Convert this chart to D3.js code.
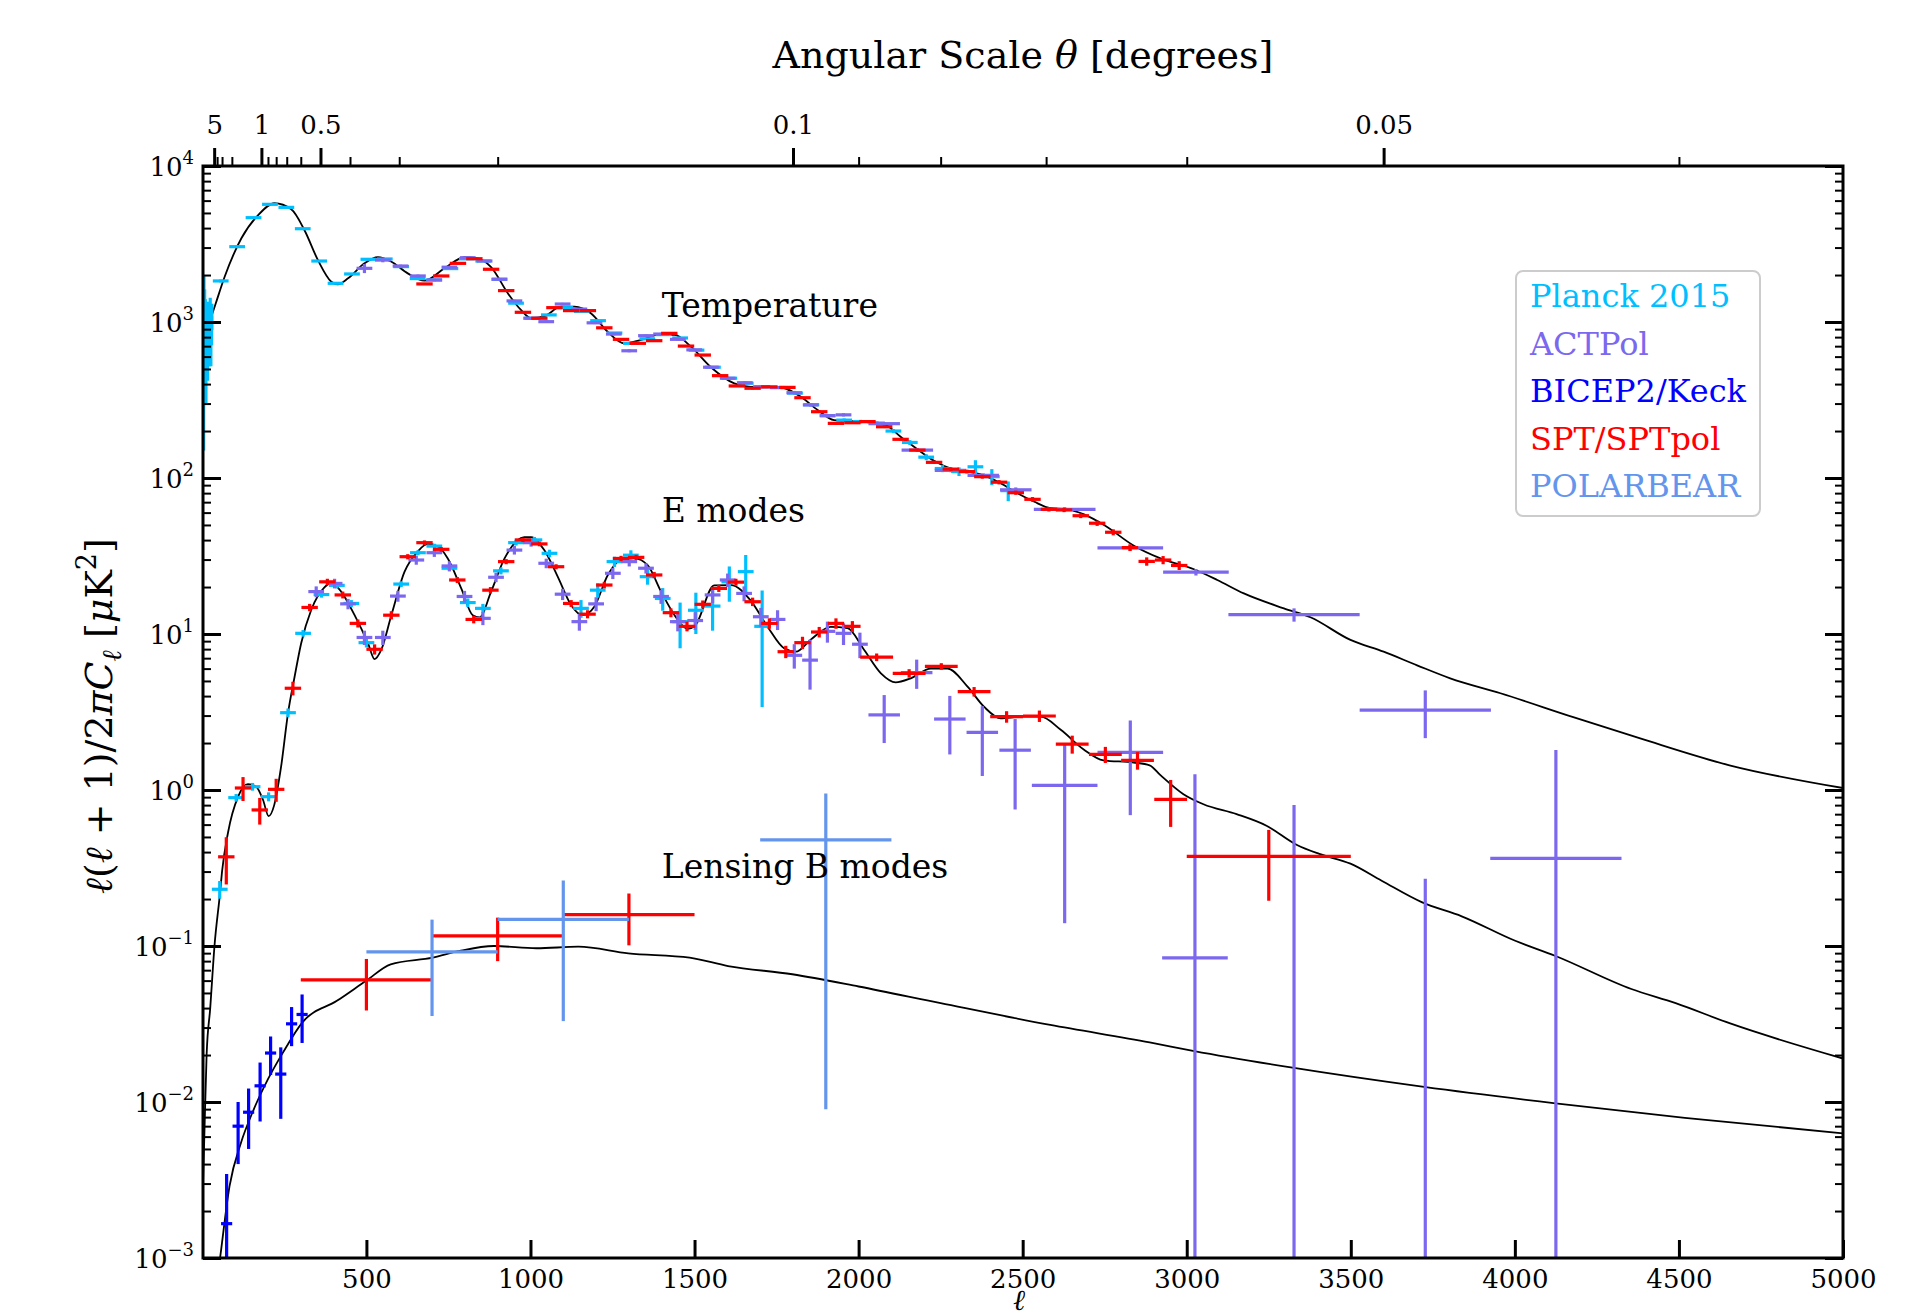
<!DOCTYPE html>
<html>
<head>
<meta charset="utf-8">
<script src="https://cdn.jsdelivr.net/npm/d3@7"></script>
<style>
  body { margin: 0; background: #fff; }
  svg { display: block; font-family: "DejaVu Serif", serif; }
</style>
</head>
<body>
<svg id="chart" width="1928" height="1311"></svg>
<script>
// ---- theory curves [ell, D_ell] ----
const ttTheory = [[2,1000],[10,850],[22,1000],[40,1300],[68,1950],[119,3440],[170,4850],[220,5770],[271,5280],[311,3890],[352,2500],[393,1813],[413,1745],[444,1905],[494,2378],[535,2600],[575,2440],[626,2050],[677,1840],[738,2210],[799,2600],[839,2560],[880,2250],[931,1528],[971,1195],[1002,1060],[1043,1090],[1093,1253],[1134,1253],[1184,1137],[1235,867],[1286,730],[1337,767],[1388,826],[1439,826],[1489,695],[1550,513],[1621,404],[1672,384],[1753,384],[1824,332],[1875,273],[1925,235],[2007,230],[2078,221],[2128,184],[2179,153],[2230,129],[2281,115],[2331,110],[2382,104],[2433,92.5],[2484,79.8],[2534,70.7],[2585,64],[2636,63],[2687,58.5],[2748,50],[2839,36.8],[2920,30.5],[3022,26],[3093,22.2],[3174,18.2],[3296,14.6],[3377,12.8],[3499,9.16],[3600,7.7],[3702,6.3],[3803,5.2],[3956,4.17],[4178,2.93],[4382,2.14],[4654,1.44],[5000,1.03]];

const eeTheory = [[2,0.003],[6,0.006],[13,0.02],[24,0.04],[37,0.1],[54,0.22],[60,0.3],[78,0.53],[109,0.906],[139,1.09],[164,1.05],[185,0.863],[202,0.68],[219,0.8],[240,1.41],[261,3.1],[281,5.3],[301,8.7],[332,14.3],[372,19.9],[393,21.3],[423,18.7],[464,13.2],[505,8.7],[525,6.9],[545,7.9],[576,13.2],[616,25],[657,33.9],[687,37.8],[717,36.5],[748,30.5],[789,19.6],[824,13.2],[845,12.8],[880,18.7],[921,30.5],[981,41.7],[1002,41.7],[1042,34.5],[1083,23.3],[1124,15.3],[1159,13.2],[1195,15],[1235,23.7],[1286,30.5],[1317,30.5],[1357,27.6],[1398,18.7],[1439,13.2],[1479,10.8],[1500,11.2],[1560,20.5],[1611,20.6],[1670,16.5],[1723,11.1],[1773,8.1],[1809,7.7],[1854,9.2],[1915,11.1],[1966,10.9],[2017,7.9],[2068,5.6],[2113,4.9],[2159,5.2],[2220,6.0],[2271,6.0],[2332,4.6],[2382,3.42],[2433,2.88],[2494,2.95],[2555,2.95],[2616,2.43],[2686,1.82],[2746,1.55],[2838,1.5],[2887,1.44],[2919,1.25],[2990,0.94],[3051,0.81],[3152,0.7],[3243,0.59],[3336,0.444],[3404,0.389],[3499,0.337],[3594,0.262],[3716,0.191],[3838,0.155],[4001,0.108],[4124,0.0863],[4355,0.053],[4490,0.043],[4654,0.032],[5000,0.019]];

const bbTheory = [[40,0.0006],[54,0.001],[83,0.0029],[118,0.0055],[153,0.0086],[200,0.014],[246,0.0208],[305,0.0324],[410,0.0445],[500,0.06],[574,0.0763],[702,0.0842],[784,0.093],[889,0.1],[1018,0.0967],[1146,0.099],[1298,0.0898],[1485,0.0842],[1602,0.0744],[1798,0.0659],[2000,0.055],[2250,0.043],[2584,0.0312],[2887,0.0241],[3023,0.0212],[3322,0.0166],[3723,0.0125],[4124,0.0098],[4518,0.0079],[5000,0.0063]];

// ---- measurements [ell, D_ell, ell half-width, D error] ----
const planckTT = [[3,1100,0,700],[4,600,0,450],[5,1400,0,600],[6,900,0,380],[7,1200,0,420],[8,550,0,240],[9,1050,0,350],[10,850,0,290],[11,500,0,200],[12,1000,0,250],[13,850,0,220],[14,950,0,240],[15,1050,0,250],[16,600,0,180],[17,1100,0,250],[18,800,0,200],[19,900,0,220],[20,950,0,220],[21,1050,0,220],[22,700,0,180],[23,900,0,200],[24,1200,0,230],[25,1000,0,210],[26,700,0,180],[27,1000,0,200],[28,900,0,190],[29,1100,0,210],
  [56,1833,24,40],[106,3040,24,50],[156,4665,24,60],[206,5680,24,60],[256,5430,24,60],[306,3963,24,45],[356,2460,24,30],[406,1770,24,22],[456,2032,24,22],[506,2523,24,25],[556,2535,24,25],[606,2265,24,22],[656,1898,24,20],[706,1860,24,20],[756,2200,24,22],[806,2540,24,25],[856,2460,24,25],[906,1879,24,20],[956,1320,24,15],[1006,1057,24,12],[1056,1110,24,12],[1106,1236,24,14],[1156,1170,24,13],[1206,1020,24,12],[1256,850,24,10],[1306,730,24,9],[1356,780,24,10],[1406,830,24,10],[1456,790,24,10],[1506,660,24,9],[1556,513,24,8],[1606,436,24,7],[1656,405,24,7],[1706,385,24,7],[1756,380,24,7],[1806,350,24,7],[1856,295,24,6],[1906,251,24,6],[1956,235,24,6],[2006,230,24,6],[2056,225,24,6],[2106,200,24,6],[2156,169,24,6],[2206,136,24,6],[2256,115,24,6],[2306,110,24,7],[2356,118,24,12],[2406,102,24,12],[2456,83,24,12]];

const planckEE = [[53,0.231,24,0.03],[103,0.893,24,0.05],[153,1.05,24,0.06],[202,0.906,24,0.06],[261,3.13,24,0.2],[307,10.1,24,0.5],[363,17.9,24,0.8],[410,20.5,24,0.9],[454,15.7,24,0.8],[500,8.8,24,0.6],[606,20.9,24,0.9],[657,33.2,24,1.2],[707,36.6,24,1.3],[753,26.4,24,1.2],[809,15.9,24,1.0],[855,14.6,24,1.0],[910,25.4,24,1.3],[956,38.5,24,1.6],[1012,40.1,24,1.8],[1058,32.9,24,1.8],[1154,14.6,24,1.9],[1205,19.1,24,2.0],[1256,29.1,24,2.2],[1306,32.0,24,2.4],[1357,23.3,24,2.6],[1403,16.9,24,2.8],[1456,12.0,24,3.9],[1504,14.2,24,4.2],[1555,15.1,24,4.6],[1606,21.6,24,5.5],[1656,25.1,24,7.0],[1706,11.2,24,7.8]];

const actTT = [[494,2208,24,150],[550,2494,24,80],[604,2285,24,45],[657,1973,24,40],[707,1860,24,35],[753,2245,24,40],[809,2582,24,45],[860,2460,24,40],[905,1879,24,30],[951,1365,24,25],[1002,1057,24,20],[1048,1005,24,20],[1098,1304,24,22],[1149,1210,24,20],[1195,988,24,18],[1254,837,24,16],[1301,654,24,14],[1352,817,24,15],[1398,837,24,15],[1449,774,24,14],[1499,663,24,12],[1550,513,24,10],[1601,436,24,9],[1653,408,24,9],[1702,384,24,8],[1753,380,24,8],[1804,352,24,8],[1854,294,24,7],[1905,251,24,6],[1954,254,24,6],[2078,223,48,5],[2179,151,48,4],[2280,112,48,3],[2380,104,48,3],[2479,84,48,3],[2628,63,94,2],[2828,35.7,100,1.5],[3028,24.9,100,1.2],[3327,13.3,200,1.3],[3727,3.25,200,1.1]];

const actEE = [[347,18.7,24,1.5],[403,21.1,24,1.5],[444,15.6,24,1.2],[494,9.5,24,1.0],[550,9.5,24,1.0],[596,17.5,24,1.4],[652,29.8,24,2],[707,33.2,24,2],[753,27.3,24,2],[799,17.4,24,1.5],[855,12.6,24,1.2],[895,23.1,24,1.6],[951,34.5,24,2.2],[1002,38.5,24,2.2],[1048,28.4,24,2],[1098,18,24,1.5],[1149,12,24,1.5],[1200,15.6,24,1.6],[1251,24.5,24,2],[1301,29.1,24,2],[1352,26.4,24,2],[1398,17.4,24,1.8],[1449,12,24,1.6],[1502,12.2,24,1.6],[1555,17.8,24,2],[1601,22.2,24,2.2],[1651,18.2,24,2],[1702,12.9,24,1.8],[1753,12.4,24,1.8],[1804,7.3,24,1.3],[1852,6.8,24,2.4],[1905,10.4,24,1.6],[1954,10.1,24,1.6],[2004,8.6,24,1.6],[2078,3.03,48,1.03],[2177,5.65,48,1.2],[2278,2.85,48,1.16],[2377,2.34,48,1.11],[2477,1.8,48,1.05],[2628,1.07,100,0.93],[2828,1.74,100,1.05],[3025,0.084,100,1.18],[3327,-0.2,200,1.0],[3727,-0.3,200,0.57],[4125,0.365,200,1.44]];

const bicepBB = [[74,0.00166,17,0.0018],[109,0.0070,17,0.003],[141,0.0086,17,0.0036],[176,0.0127,17,0.0052],[208,0.0206,17,0.0057],[239,0.0151,17,0.0073],[272,0.0317,17,0.0089],[304,0.0364,17,0.0125]];

const sptTT = [[677,1754,25,25],[728,1973,25,25],[779,2377,25,30],[829,2545,25,30],[880,2178,25,25],[926,1589,25,20],[977,1154,25,15],[1027,1057,25,14],[1073,1236,25,15],[1124,1183,25,14],[1175,1183,25,14],[1225,918,25,12],[1276,774,25,10],[1327,730,25,10],[1377,759,25,10],[1423,846,25,10],[1474,701,25,9],[1525,614,25,8],[1578,453,25,7],[1629,389,25,6],[1677,376,25,6],[1728,384,25,6],[1783,381,25,6],[1829,327,25,5],[1880,266,25,5],[1931,224,25,4],[1981,226,25,4],[2027,230,25,4],[2078,213,25,4],[2128,177,25,3],[2179,151,25,3],[2230,126,25,3],[2281,114,25,3],[2330,110,25,3],[2377,102,25,3],[2428,94,25,3],[2479,80.5,25,2.5],[2530,73,25,2.5],[2580,63,25,2],[2626,62.4,25,2],[2677,57.3,25,2],[2727,51.3,25,2],[2776,44.9,25,2],[2827,35.8,25,1.8],[2878,29.2,25,1.8],[2928,29.8,25,1.8],[2977,27.5,25,1.8]];

const sptEE = [[73,0.373,25,0.125],[124,1.03,25,0.18],[175,0.745,25,0.145],[225,1.01,25,0.17],[276,4.49,25,0.45],[327,14.8,25,0.8],[381,21.6,25,1.0],[428,17.8,25,0.9],[474,11.7,25,0.7],[525,7.98,25,0.6],[576,13.2,25,0.8],[626,31.3,25,1.2],[677,38.5,25,1.3],[728,34.9,25,1.2],[777,22.2,25,1.0],[827,12.4,25,0.7],[878,19.1,25,0.9],[926,29.1,25,1.1],[977,40.1,25,1.3],[1027,37.8,25,1.3],[1078,27.0,25,1.0],[1124,15.7,25,0.8],[1174,13.4,25,0.8],[1225,20.6,25,1.0],[1276,30.5,25,1.2],[1322,31.0,25,1.2],[1377,23.9,25,1.1],[1428,13.7,25,0.9],[1477,11.2,25,0.8],[1525,15.5,25,0.9],[1574,19.6,25,1.0],[1626,21.5,25,1.1],[1677,16.1,25,1.0],[1728,11.7,25,0.9],[1778,7.7,25,0.7],[1829,8.8,25,0.8],[1880,10.3,25,0.8],[1931,11.7,25,0.9],[1981,11.2,25,0.9],[2055,7.1,50,0.4],[2154,5.6,50,0.35],[2252,6.2,50,0.3],[2352,4.27,50,0.3],[2451,2.95,50,0.25],[2551,2.98,50,0.25],[2651,1.97,50,0.26],[2752,1.69,50,0.2],[2850,1.55,50,0.2],[2951,0.87,50,0.29],[3250,0.375,250,0.18]];

const sptBB = [[500,0.0606,200,0.022],[900,0.116,200,0.036],[1300,0.159,200,0.058]];
const polarbearBB = [[700,0.0916,200,0.056],[1100,0.148,200,0.115],[1900,0.479,200,0.47]];

// axis ticks
const xTicks = [500,1000,1500,2000,2500,3000,3500,4000,4500,5000];
const yExponents = [-3,-2,-1,0,1,2,3,4];
const thetaMajor = [5,1,0.5,0.1,0.05];
const thetaMinor = [4,3,2,0.9,0.8,0.7,0.6,0.4,0.3,0.2,0.09,0.08,0.07,0.06,0.04];

const legendItems = [
  {label: 'Planck 2015', color: '#00BFFF'},
  {label: 'ACTPol', color: '#7B68EE'},
  {label: 'BICEP2/Keck', color: '#0000FF'},
  {label: 'SPT/SPTpol', color: '#FF0000'},
  {label: 'POLARBEAR', color: '#6495ED'}
];

const svg = d3.select('#chart');
const mLeft = 203, mRight = 1843, mTop = 166, mBottom = 1258;
const FONT = '"DejaVu Serif", serif';

const x = d3.scaleLinear().domain([2, 5000]).range([mLeft, mRight]);
const y = d3.scaleLog().domain([1e-3, 1e4]).range([mBottom, mTop]);

svg.append('defs').append('clipPath').attr('id', 'plotclip')
  .append('rect').attr('x', mLeft).attr('y', mTop)
  .attr('width', mRight - mLeft).attr('height', mBottom - mTop);

const plot = svg.append('g').attr('clip-path', 'url(#plotclip)');

// theory lines
const line = d3.line()
  .x(d => x(d[0]))
  .y(d => y(d[1]))
  .curve(d3.curveMonotoneX);

[ttTheory, eeTheory, bbTheory].forEach(curve => {
  plot.append('path').datum(curve)
    .attr('d', line)
    .attr('fill', 'none')
    .attr('stroke', '#000')
    .attr('stroke-width', 1.8);
});

// error-bar crosses
function drawSet(rows, color) {
  const g = plot.append('g').attr('stroke', color).attr('stroke-width', 3.2);
  g.selectAll('line.h')
    .data(rows.filter(r => r[1] > 0 && r[2] > 0))
    .join('line').attr('class', 'h')
    .attr('x1', d => x(d[0] - d[2]))
    .attr('x2', d => x(d[0] + d[2]))
    .attr('y1', d => y(d[1]))
    .attr('y2', d => y(d[1]));
  g.selectAll('line.v')
    .data(rows.filter(r => r[3] > 0))
    .join('line').attr('class', 'v')
    .attr('x1', d => x(d[0]))
    .attr('x2', d => x(d[0]))
    .attr('y1', d => y(Math.max(d[1] - d[3], 1e-6)))
    .attr('y2', d => y(d[1] + d[3]));
}

drawSet(planckTT, '#00BFFF');
drawSet(planckEE, '#00BFFF');
drawSet(actTT, '#7B68EE');
drawSet(actEE, '#7B68EE');
drawSet(bicepBB, '#0000FF');
drawSet(sptTT, '#FF0000');
drawSet(sptEE, '#FF0000');
drawSet(sptBB, '#FF0000');
drawSet(polarbearBB, '#6495ED');

// axes
function styleAxis(g) {
  g.select('.domain').remove();
  g.attr('font-family', FONT).attr('font-size', 26);
  g.selectAll('.tick line').attr('stroke', '#000');
  g.selectAll('.tick text').attr('fill', '#000');
}

// bottom
svg.append('g').attr('transform', `translate(0,${mBottom})`)
  .call(d3.axisBottom(x).tickValues(xTicks).tickSize(-18).tickPadding(12).tickFormat(d3.format('d')))
  .call(styleAxis)
  .call(g => g.selectAll('.tick line').attr('stroke-width', 3));

// top (angular scale)
svg.append('g').attr('transform', `translate(0,${mTop})`)
  .call(d3.axisTop(x).tickValues(thetaMajor.map(t => 180 / t)).tickSize(18).tickPadding(14)
    .tickFormat((d, i) => String(thetaMajor[i])))
  .call(styleAxis)
  .call(g => g.selectAll('.tick line').attr('stroke-width', 3));
svg.append('g').attr('transform', `translate(0,${mTop})`)
  .call(d3.axisTop(x).tickValues(thetaMinor.map(t => 180 / t)).tickSize(9).tickFormat(''))
  .call(styleAxis)
  .call(g => g.selectAll('.tick line').attr('stroke-width', 2));

// left / right log ticks
const yMajor = yExponents.map(k => Math.pow(10, k));
const yMinor = [];
yExponents.slice(0, -1).forEach(k => {
  for (let m = 2; m <= 9; m++) yMinor.push(m * Math.pow(10, k));
});

[[d3.axisLeft, mLeft], [d3.axisRight, mRight]].forEach(([axisFn, pos]) => {
  svg.append('g').attr('transform', `translate(${pos},0)`)
    .call(axisFn(y).tickValues(yMajor).tickSize(-18).tickFormat(''))
    .call(styleAxis)
    .call(g => g.selectAll('.tick line').attr('stroke-width', 3));
  svg.append('g').attr('transform', `translate(${pos},0)`)
    .call(axisFn(y).tickValues(yMinor).tickSize(-8).tickFormat(''))
    .call(styleAxis)
    .call(g => g.selectAll('.tick line').attr('stroke-width', 2));
});

// y tick labels with superscripts
const yLab = svg.append('g').attr('font-family', FONT).attr('fill', '#000');
yExponents.forEach(k => {
  const t = yLab.append('text')
    .attr('x', mLeft - 9)
    .attr('y', y(Math.pow(10, k)) + 10)
    .attr('text-anchor', 'end')
    .attr('font-size', 26);
  t.append('tspan').text('10');
  t.append('tspan').attr('dy', -12).attr('font-size', 18)
    .text(k < 0 ? '\u2212' + Math.abs(k) : String(k));
});

// frame
svg.append('rect')
  .attr('x', mLeft).attr('y', mTop)
  .attr('width', mRight - mLeft).attr('height', mBottom - mTop)
  .attr('fill', 'none').attr('stroke', '#000').attr('stroke-width', 3);

// titles
const title = svg.append('text')
  .attr('x', (mLeft + mRight) / 2).attr('y', 68)
  .attr('text-anchor', 'middle')
  .attr('font-family', FONT).attr('font-size', 38);
title.append('tspan').text('Angular Scale ');
title.append('tspan').attr('font-style', 'italic').text('\u03b8');
title.append('tspan').text(' [degrees]');

svg.append('text')
  .attr('x', (mLeft + mRight) / 2 - 4).attr('y', 1310)
  .attr('text-anchor', 'middle')
  .attr('font-family', FONT).attr('font-size', 29)
  .attr('font-style', 'italic')
  .text('\u2113');

const yTitle = svg.append('text')
  .attr('transform', 'translate(112,716) rotate(-90)')
  .attr('text-anchor', 'middle')
  .attr('font-family', FONT).attr('font-size', 38);
yTitle.append('tspan').attr('font-style', 'italic').text('\u2113');
yTitle.append('tspan').text('(');
yTitle.append('tspan').attr('font-style', 'italic').text('\u2113');
yTitle.append('tspan').text(' + 1)/2');
yTitle.append('tspan').attr('font-style', 'italic').text('\u03c0C');
yTitle.append('tspan').attr('font-style', 'italic').attr('font-size', 27).attr('dy', 9).text('\u2113');
yTitle.append('tspan').attr('dy', -9).text(' [');
yTitle.append('tspan').attr('font-style', 'italic').text('\u03bc');
yTitle.append('tspan').text('K');
yTitle.append('tspan').attr('font-size', 27).attr('dy', -16).text('2');
yTitle.append('tspan').attr('dy', 16).text(']');

// in-plot annotations
const notes = [
  {text: 'Temperature', l: 1400, d: 1080},
  {text: 'E modes', l: 1400, d: 52.5},
  {text: 'Lensing B modes', l: 1400, d: 0.274}
];
svg.append('g').selectAll('text').data(notes).join('text')
  .attr('x', d => x(d.l)).attr('y', d => y(d.d))
  .attr('font-family', FONT).attr('font-size', 33)
  .text(d => d.text);

// legend
const legend = svg.append('g');
legend.append('rect')
  .attr('x', 1516).attr('y', 271).attr('width', 244).attr('height', 245)
  .attr('rx', 7).attr('fill', '#fff').attr('fill-opacity', 0.85)
  .attr('stroke', '#cccccc').attr('stroke-width', 2);
legend.selectAll('text').data(legendItems).join('text')
  .attr('x', 1530).attr('y', (d, i) => 307 + i * 47.5)
  .attr('font-family', FONT).attr('font-size', 32)
  .attr('fill', d => d.color)
  .text(d => d.label);
</script>
</body>
</html>
